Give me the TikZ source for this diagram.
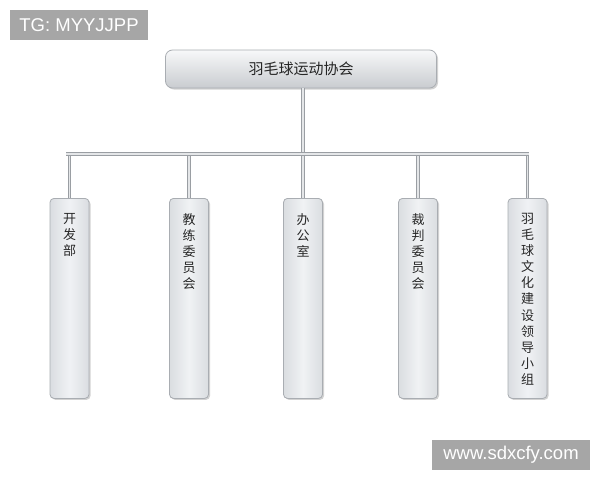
\documentclass[tikz,border=0pt]{standalone}
\usepackage{fontspec}
\newfontfamily\cjk{Noto Sans CJK SC}
\newfontfamily\arial{Liberation Sans}
\usetikzlibrary{shadows}
\definecolor{boxedge}{HTML}{A9ADB2}
\definecolor{boxlight}{HTML}{F7F8F9}
\definecolor{boxdark}{HTML}{C9CCD0}
\definecolor{colmid}{HTML}{F0F2F4}
\definecolor{colside}{HTML}{DADDE1}
\definecolor{wm}{HTML}{A6A6A6}
\definecolor{linkedge}{HTML}{9A9EA3}
\definecolor{linkmid}{HTML}{E4E6E8}
\tikzset{
  topbox/.style={draw=boxedge, line width=0.8pt, rounded corners=7pt,
    top color=boxlight, bottom color=boxdark,
    minimum width=271pt, minimum height=38pt, inner sep=0pt,
    drop shadow={shadow xshift=1.5pt, shadow yshift=-1.5pt, opacity=.35},
    font=\cjk\fontsize{15}{18}\selectfont, text=black!85},
  colbox/.style={draw=boxedge, line width=0.8pt, rounded corners=4pt,
    left color=colside, right color=colside, middle color=colmid,
    minimum width=39pt, minimum height=200pt, inner sep=0pt, anchor=north,
    drop shadow={shadow xshift=1.5pt, shadow yshift=-1.5pt, opacity=.35}},
  coltext/.style={anchor=north, inner sep=0pt, align=center, text=black!85,
    font=\cjk\fontsize{13}{16.1}\selectfont},
  link/.style={draw=linkedge, line width=1pt, double=linkmid, double distance=1.2pt},
  wmbox/.style={fill=wm, text=white, inner sep=0pt, font=\arial\fontsize{18.5}{20}\selectfont}
}
\begin{document}
\begin{tikzpicture}[x=1pt,y=-1pt]
\useasboundingbox (0,0) rectangle (600,480);
\fill[white] (0,0) rectangle (600,480);

% watermark boxes
\node[wmbox, minimum width=138pt, minimum height=30pt] (tg) at (79,25) {TG: MYYJJPP};
\node[wmbox, minimum width=158pt, minimum height=30pt] (web) at (511,455) {www.sdxcfy.com};

% connectors
\coordinate (bl) at (66,154);
\coordinate (br) at (529,154);

% top node
\node[topbox] (top) at (301,69) {羽毛球运动协会};

% columns
\node[colbox] (c1) at (69.5,198) {};
\node[colbox] (c2) at (189,198) {};
\node[colbox] (c3) at (303,198) {};
\node[colbox] (c4) at (418,198) {};
\node[colbox] (c5) at (527.5,198) {};

\draw[link] (top.south -| c3.north) -- (c3.north |- bl);
\foreach \c in {c1,c2,c3,c4,c5}{
  \draw[link] (\c.north |- bl) -- (\c.north);
}
\draw[link] (bl) -- (br);

% column texts
\node[coltext] (t1) at ([yshift=-15pt]c1.north) {开\\发\\部};
\node[coltext] (t2) at ([yshift=-15pt]c2.north) {教\\练\\委\\员\\会};
\node[coltext] (t3) at ([yshift=-15pt]c3.north) {办\\公\\室};
\node[coltext] (t4) at ([yshift=-15pt]c4.north) {裁\\判\\委\\员\\会};
\node[coltext] (t5) at ([yshift=-15pt]c5.north) {羽\\毛\\球\\文\\化\\建\\设\\领\\导\\小\\组};
\end{tikzpicture}
\end{document}
